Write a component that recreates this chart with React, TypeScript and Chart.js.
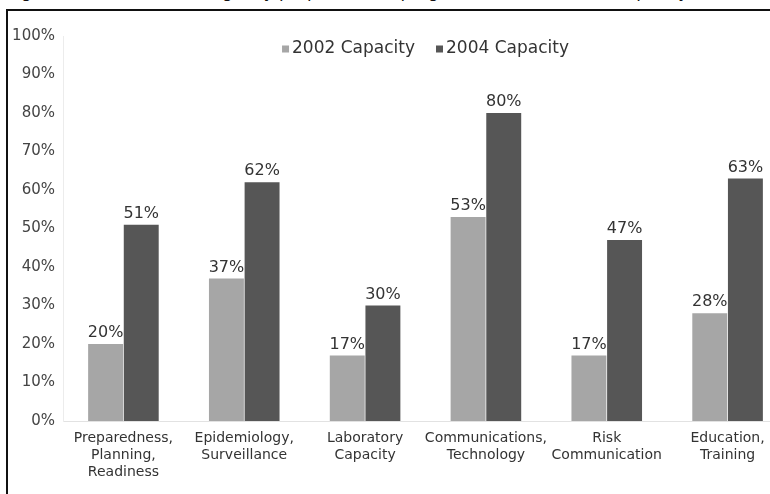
import React, { useEffect, useRef } from "react";
import { Chart, registerables } from "chart.js";

Chart.register(...registerables);

const categories: string[][] = [
  ["Preparedness,", "Planning,", "Readiness"],
  ["Epidemiology,", "Surveillance"],
  ["Laboratory", "Capacity"],
  ["Communications,", "Technology"],
  ["Risk", "Communication"],
  ["Education,", "Training"],
];
const seriesNames = ["2002 Capacity", "2004 Capacity"];
const capacity2002 = [20, 37, 17, 53, 17, 28];
const capacity2004 = [51, 62, 30, 80, 47, 63];
const yTickMax = 100;
const yTickStep = 10;

const FONT = "'DejaVu Sans', 'Open Sans', sans-serif";
const LIGHT = "#a6a6a6";
const DARK = "#565656";

const valueLabels = {
  id: "valueLabels",
  afterDatasetsDraw(chart: any) {
    const ctx = chart.ctx;
    ctx.save();
    ctx.font = `16px ${FONT}`;
    ctx.fillStyle = "#333";
    ctx.textAlign = "center";
    ctx.textBaseline = "bottom";
    chart.data.datasets.forEach((ds: any, i: number) => {
      const meta = chart.getDatasetMeta(i);
      meta.data.forEach((bar: any, j: number) => {
        ctx.fillText(`${ds.data[j]}%`, bar.x, bar.y - 3);
      });
    });
    ctx.restore();
  },
};

const innerLegend = {
  id: "innerLegend",
  afterDraw(chart: any) {
    const ctx = chart.ctx;
    const area = chart.chartArea;
    ctx.save();
    ctx.font = `17px ${FONT}`;
    ctx.textBaseline = "middle";
    const box = 7;
    const gapBox = 3;
    const gapItem = 21;
    const items = chart.data.datasets.map((ds: any) => ({
      label: ds.label,
      color: ds.backgroundColor,
      w: box + gapBox + ctx.measureText(ds.label).width,
    }));
    const total = items.reduce((s: number, it: any) => s + it.w, 0) + gapItem * (items.length - 1);
    let x = (area.left + area.right) / 2 - total / 2;
    const y = area.top + 13;
    items.forEach((it: any) => {
      ctx.fillStyle = it.color;
      ctx.fillRect(x, y - box / 2, box, box);
      ctx.fillStyle = "#333";
      ctx.textAlign = "left";
      ctx.fillText(it.label, x + box + gapBox, y);
      x += it.w + gapItem;
    });
    ctx.restore();
  },
};

export default function App() {
  const ref = useRef<HTMLCanvasElement | null>(null);

  useEffect(() => {
    if (!ref.current) return;
    const chart = new Chart(ref.current, {
      type: "bar",
      data: {
        labels: categories,
        datasets: [
          { label: seriesNames[0], data: capacity2002, backgroundColor: LIGHT, categoryPercentage: 0.59, barPercentage: 0.98 },
          { label: seriesNames[1], data: capacity2004, backgroundColor: DARK, categoryPercentage: 0.59, barPercentage: 0.98 },
        ],
      },
      options: {
        animation: false,
        responsive: false,
        maintainAspectRatio: false,
        layout: { padding: { top: 36, right: 2, left: 0, bottom: 0 } },
        plugins: { legend: { display: false }, tooltip: { enabled: false }, title: { display: false } },
        scales: {
          x: {
            grid: { display: false },
            border: { display: true, color: "#e2e2e2" },
            afterFit: (s: any) => { s.height = 73; },
            ticks: {
              padding: 1,
              color: "#333",
              font: { family: FONT, size: 14, lineHeight: 1.22 },
              maxRotation: 0,
              autoSkip: false,
            },
          },
          y: {
            min: 0,
            max: yTickMax,
            grid: { display: false },
            border: { display: true, color: "#ececec" },
            afterFit: (s: any) => { s.width = 63; },
            ticks: {
              stepSize: yTickStep,
              padding: 0,
              color: "#444",
              font: { family: FONT, size: 15 },
              callback: (v: any) => `${v}%`,
            },
          },
        },
      },
      plugins: [valueLabels, innerLegend],
    });
    return () => chart.destroy();
  }, []);

  return (
    <div style={{ position: "fixed", left: 0, top: 0, width: 770, height: 494, overflow: "hidden", background: "#fff" }}>
      <div
        style={{
          position: "absolute",
          left: 8,
          top: -19,
          whiteSpace: "nowrap",
          font: `17px ${FONT}`,
          color: "#111",
        }}
      >
        Figure 2. Percent of emergency preparedness programs with increased capacity, 2002 to 2004
      </div>
      <div
        style={{
          position: "absolute",
          left: 6,
          top: 9,
          width: 900,
          height: 600,
          borderTop: "2px solid #111",
          borderLeft: "2px solid #111",
          background: "#fff",
        }}
      />
      <div style={{ position: "absolute", left: 0, top: 0, width: 790, height: 494 }}>
        <canvas ref={ref} width={790} height={494} style={{ width: 790, height: 494, display: "block" }} />
      </div>
    </div>
  );
}
